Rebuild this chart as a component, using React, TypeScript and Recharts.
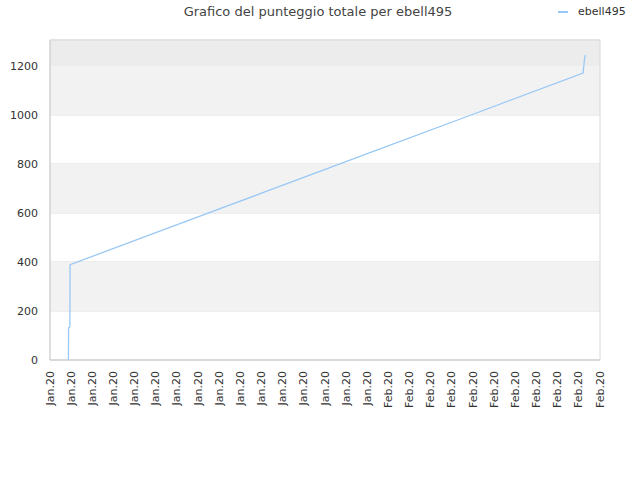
import {
  CartesianGrid,
  Line,
  LineChart,
  ReferenceArea,
  XAxis,
  YAxis,
} from "recharts";

// x positions are in tick units (0 = first "Jan.20" tick, 26 = last "Feb.20" tick)
const xPos = [0.86, 0.87, 0.88, 0.94, 0.95, 5, 10, 15, 20, 25.2, 25.26, 25.3];
const punteggio = [0, 8, 131, 135, 389, 520, 681, 842, 1003, 1171, 1222, 1245];

const xLabels = [
  ...Array.from({ length: 16 }, () => "Jan.20"),
  ...Array.from({ length: 11 }, () => "Feb.20"),
];
const yTicks = [0, 200, 400, 600, 800, 1000, 1200];
const yMax = 1306;

const data = xPos.map((x, i) => ({ x, punteggio: punteggio[i] }));

const font = "'DejaVu Sans', sans-serif";

function RotatedTick(props: any) {
  const { x, y, payload } = props;
  return (
    <text
      x={x}
      y={y}
      transform={`rotate(-90, ${x}, ${y})`}
      textAnchor="end"
      dominantBaseline="central"
      fontSize={11}
      fill="#333"
      fontFamily={font}
    >
      {xLabels[payload.value]}
    </text>
  );
}

export default function App() {
  return (
    <div style={{ position: "absolute", left: 0, top: 0, width: 640, height: 480, background: "#fff" }}>
      <div
        style={{
          position: "absolute",
          top: 4,
          left: 0,
          width: 636,
          textAlign: "center",
          fontFamily: font,
          fontSize: 13,
          color: "#444",
        }}
      >
        Grafico del punteggio totale per ebell495
      </div>
      <div
        style={{
          position: "absolute",
          top: 5,
          left: 558,
          display: "flex",
          alignItems: "center",
          fontFamily: font,
          fontSize: 11,
          color: "#333",
        }}
      >
        <span style={{ display: "inline-block", width: 10, height: 2, background: "#99c8f5", marginRight: 10 }} />
        ebell495
      </div>
      <LineChart
        width={640}
        height={480}
        data={data}
        margin={{ top: 40, right: 40, bottom: 60, left: 0 }}
      >
        <ReferenceArea y1={200} y2={400} fill="#f2f2f2" fillOpacity={1} stroke="none" />
        <ReferenceArea y1={600} y2={800} fill="#f2f2f2" fillOpacity={1} stroke="none" />
        <ReferenceArea y1={1000} y2={1200} fill="#f2f2f2" fillOpacity={1} stroke="none" />
        <ReferenceArea y1={1200} y2={yMax} fill="#ececec" fillOpacity={1} stroke="none" />
        <CartesianGrid stroke="#dddddd" vertical={false} />
        <ReferenceArea
          x1={0}
          x2={26}
          y1={0}
          y2={yMax}
          fill="none"
          stroke="#d8d8d8"
          strokeWidth={1}
        />
        <XAxis
          dataKey="x"
          type="number"
          domain={[0, 26]}
          ticks={xLabels.map((_, i) => i)}
          interval={0}
          tick={<RotatedTick />}
          tickLine={false}
          axisLine={{ stroke: "#d0d0d0" }}
          height={60}
          tickMargin={5}
        />
        <YAxis
          type="number"
          domain={[0, yMax]}
          ticks={yTicks}
          width={50}
          tickLine={false}
          axisLine={{ stroke: "#d0d0d0" }}
          tick={{ fontSize: 11, fill: "#333", fontFamily: font }}
          tickMargin={6}
        />
        <Line
          type="linear"
          dataKey="punteggio"
          stroke="#99c8f5"
          strokeWidth={1.3}
          dot={false}
          isAnimationActive={false}
        />
      </LineChart>
    </div>
  );
}
